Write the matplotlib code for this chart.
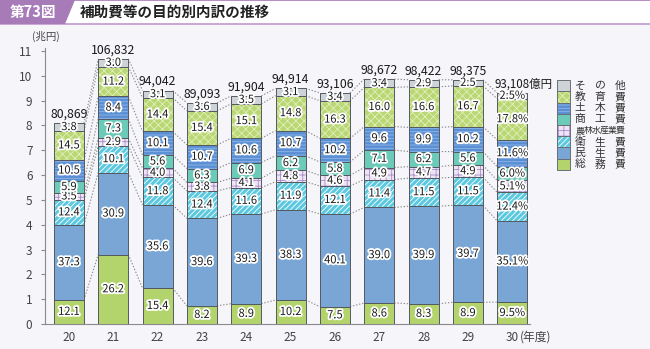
import matplotlib
matplotlib.use("Agg")
import matplotlib.pyplot as plt
import matplotlib.patheffects as pe
from matplotlib.patches import Rectangle, Polygon
import numpy as np

plt.rcParams['font.family'] = ['Noto Sans CJK JP', 'DejaVu Sans']
plt.rcParams['hatch.linewidth'] = 0.6

years = ['20', '21', '22', '23', '24', '25', '26', '27', '28', '29', '30']
totals = [80869, 106832, 94042, 89093, 91904, 94914, 93106, 98672, 98422, 98375, 93108]
categories = ['総務費', '民生費', '衛生費', '農林水産業費', '商工費', '土木費', '教育費', 'その他']
legend_labels = ['総　務　費', '民　生　費', '衛　生　費', '農林水産業費', '商　工　費', '土　木　費', '教　育　費', 'そ　の　他']
soumu   = [12.1, 26.2, 15.4, 8.2, 8.9, 10.2, 7.5, 8.6, 8.3, 8.9, 9.5]
minsei  = [37.3, 30.9, 35.6, 39.6, 39.3, 38.3, 40.1, 39.0, 39.9, 39.7, 35.1]
eisei   = [12.4, 10.1, 11.8, 12.4, 11.6, 11.9, 12.1, 11.4, 11.5, 11.5, 12.4]
nourin  = [3.5, 2.9, 4.0, 3.8, 4.1, 4.8, 4.6, 4.9, 4.7, 4.9, 5.1]
shoukou = [5.9, 7.3, 5.6, 6.3, 6.9, 6.2, 5.8, 7.1, 6.2, 5.6, 6.0]
doboku  = [10.5, 8.4, 10.1, 10.7, 10.6, 10.7, 10.2, 9.6, 9.9, 10.2, 11.6]
kyouiku = [14.5, 11.2, 14.4, 15.4, 15.1, 14.8, 16.3, 16.0, 16.6, 16.7, 17.8]
sonota  = [3.8, 3.0, 3.1, 3.6, 3.5, 3.1, 3.4, 3.4, 2.9, 2.5, 2.5]

series = [soumu, minsei, eisei, nourin, shoukou, doboku, kyouiku, sonota]
styles = [
    dict(fc='#b3d46c', hatch=None, hc='#b3d46c'),
    dict(fc='#7aa6d6', hatch=None, hc='#7aa6d6'),
    dict(fc='#5cc8df', hatch='//////', hc='#ffffff'),
    dict(fc='#efe4f4', hatch='+++', hc='#a88ccb'),
    dict(fc='#6ccab9', hatch=None, hc='#6ccab9'),
    dict(fc='#5b8fd3', hatch='-----', hc='#8fb7ea'),
    dict(fc='#b9d772', hatch='xxxx', hc='#e2efbf'),
    dict(fc='#cdd3d7', hatch=None, hc='#cdd3d7'),
]

BG = '#f5f5fa'
fig = plt.figure(figsize=(6.5, 3.49), dpi=100)
fig.patch.set_facecolor(BG)

W, H = 650.0, 349.0
def fx(px): return px / W
def fy(py): return 1 - py / H

# header
fig.patches.append(Rectangle((0, fy(24)), 1, 24 / H, transform=fig.transFigure,
                             facecolor='white', edgecolor='none', zorder=0))
fig.patches.append(Rectangle((0, fy(1.2)), 1, 1.2 / H, transform=fig.transFigure,
                             facecolor='#b58fc4', edgecolor='none', zorder=1))
fig.patches.append(Rectangle((0, fy(24.5)), 1, 1.5 / H, transform=fig.transFigure,
                             facecolor='#c9aad6', edgecolor='none', zorder=1))
fig.patches.append(Polygon([(0, fy(0)), (fx(75), fy(0)), (fx(65), fy(24)), (0, fy(24))],
                           closed=True, transform=fig.transFigure,
                           facecolor='#a77bb8', edgecolor='none', zorder=2))
fig.text(fx(10), fy(12), '第73図', color='white', fontsize=10.5, fontweight='bold',
         ha='left', va='center')
fig.text(fx(80), fy(12), '補助費等の目的別内訳の推移', color='#222222', fontsize=10.5,
         fontweight='bold', ha='left', va='center')

# axes
zero_px, unit_px = 324.0, 24.82
ymax = 11.12
ax_top_px = zero_px - ymax * unit_px
ax = fig.add_axes([fx(45), fy(zero_px), fx(530) - fx(45), (zero_px - ax_top_px) / H])
ax.set_facecolor(BG)
x = np.arange(len(years))
width = 0.68
ax.set_xlim(-0.54, 10.4)
ax.set_ylim(0, ymax)

tot = np.array(totals) / 10000.0
bottoms = np.zeros(len(years))
cums = []
stroke = [pe.withStroke(linewidth=2.6, foreground='white')]
for k, (vals, st) in enumerate(zip(series, styles)):
    h = tot * np.array(vals) / 100.0
    ax.bar(x, h, width, bottom=bottoms, color=st['fc'], edgecolor=st['hc'],
           hatch=st['hatch'], linewidth=0, zorder=2)
    ax.bar(x, h, width, bottom=bottoms, fill=False, edgecolor='#555a60',
           linewidth=0.7, zorder=3)
    for i in range(len(years)):
        lab = f'{vals[i]:.1f}' + ('%' if i == len(years) - 1 else '')
        ax.text(x[i], bottoms[i] + h[i] / 2, lab, ha='center', va='center',
                fontsize=8.0, color='#1a1a1a', zorder=5, path_effects=stroke)
    bottoms = bottoms + h
    cums.append(bottoms.copy())

# dotted connectors
for c in cums:
    for i in range(len(years) - 1):
        ax.plot([x[i] + width / 2, x[i + 1] - width / 2], [c[i], c[i + 1]],
                linestyle=(0, (1.2, 1.6)), color='#8a8a8a', linewidth=0.8, zorder=1)

# totals
for i in range(len(years)):
    if i == len(years) - 1:
        ax.text(x[i] - width / 2 - 0.06, tot[i] + 0.1, f'{totals[i]:,}億円', ha='left',
                va='bottom', fontsize=8.3, color='#1a1a1a', zorder=5)
    else:
        ax.text(x[i], tot[i] + 0.1, f'{totals[i]:,}', ha='center', va='bottom',
                fontsize=8.8, color='#1a1a1a', zorder=5)

for s in ['top', 'right']:
    ax.spines[s].set_visible(False)
ax.spines['left'].set_color('#8a8a8a')
ax.spines['bottom'].set_color('#8a8a8a')
ax.set_yticks(range(0, 12))
ax.set_yticklabels([str(v) for v in range(0, 12)], fontsize=8.5, color='#444444')
ax.tick_params(axis='y', length=3, color='#8a8a8a', pad=6)
ax.set_xticks(x)
ax.set_xticklabels(years, fontsize=8.5, color='#444444')
ax.tick_params(axis='x', length=0, pad=5)
ax.annotate('(年度)', xy=(x[-1] + 0.17, 0), xycoords=('data', 'axes fraction'),
            xytext=(0, -5), textcoords='offset points', fontsize=8.5,
            color='#444444', ha='left', va='top', annotation_clip=False)
fig.text(fx(46), fy(36), '(兆円)', fontsize=7.5, color='#444444', ha='center', va='center')

# legend
lx0, lx1 = 557, 570
ltop, lh = 80, 11.25
order = list(range(len(categories)))[::-1]
for r, k in enumerate(order):
    st = styles[k]
    yb = ltop + (r + 1) * lh
    fig.patches.append(Rectangle((fx(lx0), fy(yb)), (lx1 - lx0) / W, lh / H,
                                 transform=fig.transFigure, facecolor=st['fc'],
                                 edgecolor=st['hc'], hatch=st['hatch'], linewidth=0, zorder=3))
    fig.patches.append(Rectangle((fx(lx0), fy(yb)), (lx1 - lx0) / W, lh / H,
                                 transform=fig.transFigure, fill=False,
                                 edgecolor='#6a6f75', linewidth=0.7, zorder=4))
    label = legend_labels[k].replace('　', '')
    yc = fy(ltop + (r + 0.5) * lh)
    if len(label) == 3:
        for j, ch in enumerate(label):
            fig.text(fx(580 + 20 * j), yc, ch, fontsize=7.8, color='#333333',
                     ha='center', va='center')
    else:
        n = len(label)
        for j, ch in enumerate(label):
            fig.text(fx(580 + 40 * j / (n - 1)), yc, ch, fontsize=6.4,
                     color='#333333', ha='center', va='center')

fig.savefig('out.png', dpi=100, facecolor=BG)
